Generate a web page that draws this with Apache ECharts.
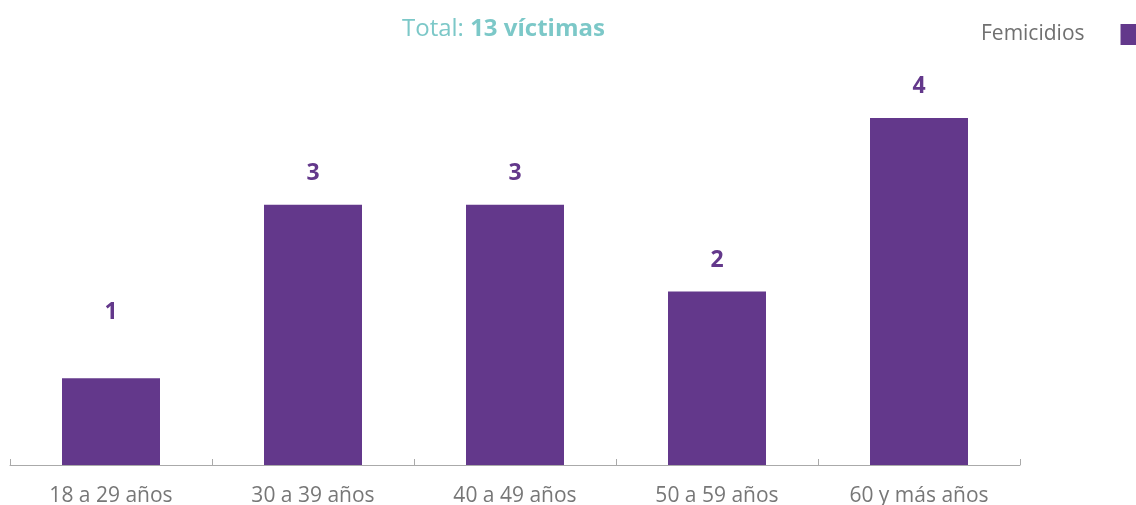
<!DOCTYPE html>
<html>
<head>
<meta charset="utf-8">
<script src="https://cdn.jsdelivr.net/npm/echarts@6/dist/echarts.min.js"></script>
<style>html,body{margin:0;padding:0;background:#fff}#c{width:1136px;height:505px}</style>
</head>
<body>
<div id="c"></div>
<script>
const categories = ['18 a 29 años', '30 a 39 años', '40 a 49 años', '50 a 59 años', '60 y más años'];
const values = [1, 3, 3, 2, 4];
const seriesName = 'Femicidios';
const titleLabel = 'Total: ';
const titleValue = '13 víctimas';

const FONT = '"Open Sans", sans-serif';
const chart = echarts.init(document.getElementById('c'));
chart.setOption({
  animation: false,
  title: {
    text: '{n|' + titleLabel + '}{b|' + titleValue + '}',
    left: 397, top: 12,
    textStyle: {
      rich: {
        n: { fontFamily: FONT, fontSize: 24, color: '#7cc8c8', fontWeight: 'normal' },
        b: { fontFamily: FONT, fontSize: 24, color: '#7cc8c8', fontWeight: 'bold' }
      }
    }
  },
  legend: {
    data: [seriesName],
    left: 976, top: 19,
    align: 'right',
    itemWidth: 17, itemHeight: 21,
    icon: 'rect',
    textStyle: { fontFamily: FONT, fontSize: 21, color: '#707070', padding: [0, 31, 0, 0] }
  },
  grid: { left: 10, right: 116, top: 118, bottom: 40, outerBoundsMode: 'none', containLabel: false },
  xAxis: {
    type: 'category',
    data: categories,
    axisLine: { lineStyle: { color: '#aaa', width: 1 } },
    axisTick: { show: true, inside: true, length: 6, lineStyle: { color: '#aaa' } },
    axisLabel: { fontFamily: FONT, fontSize: 21, color: '#777', margin: 21 }
  },
  yAxis: {
    type: 'value', min: 0, max: 4,
    show: false,
    splitLine: { show: false }
  },
  series: [{
    name: seriesName,
    type: 'bar',
    barWidth: 98,
    itemStyle: { color: '#63388b' },
    label: {
      show: true, position: 'top', distance: 20,
      fontFamily: FONT, fontSize: 23, fontWeight: 'bold', color: '#63388b'
    },
    data: values.map((v, i) => i === 0 ? { value: v, label: { distance: 54 } } : v)
  }]
});
</script>
</body>
</html>
